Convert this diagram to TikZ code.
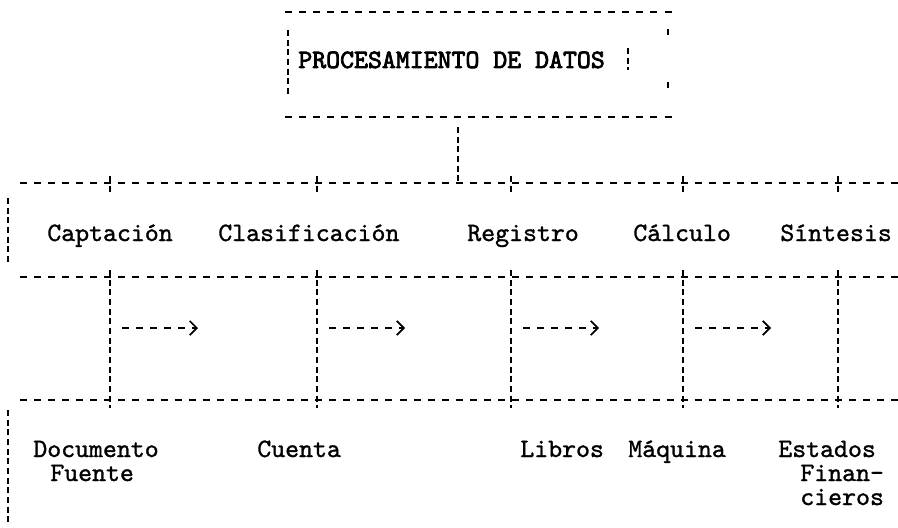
\documentclass[tikz,border=0pt]{standalone}
\usepackage{fontspec}
\usetikzlibrary{arrows.meta}
\newfontfamily\twfont{lmmono10-regular.otf}[FakeBold=1.2]
\newfontfamily\twbold{lmmono10-regular.otf}[FakeBold=2.8]
\tikzset{
  hline/.style={line width=1.1pt, dash pattern=on 4pt off 4pt},
  vline/.style={line width=1.0pt, dash pattern=on 3.5pt off 2pt},
  lbl/.style={anchor=base west, inner sep=0pt, font=\twfont\fontsize{15.1}{18}\selectfont},
  ttl/.style={lbl, font=\twbold\fontsize{15.1}{18}\selectfont},
  arr/.style={hline, -{Straight Barb[length=4pt,width=8pt,line width=1pt]}},
}
\begin{document}
\begin{tikzpicture}[x=0.02cm,y=-0.02cm]
\useasboundingbox (0,0) rectangle (898,527);
% top box
\node[ttl] (title) at (298,68) {PROCESAMIENTO DE DATOS};
\draw[hline] (285,12) -- (672,12);
\draw[hline] (285,117) -- (672,117);
\draw[vline] (288,30) -- (288,95);
\draw[vline] (628,48) -- (628,70);
\draw[vline] (668,29) -- (668,36);
\draw[vline] (668,82) -- (668,89);
% connector
\coordinate (c1) at (458,127);
\coordinate (c2) at (458,183);
\draw[vline] (c1) -- (c2);
% row lines
\foreach \y in {183,277,400} \draw[hline] (20,\y) -- (898,\y);
% column ticks and verticals
\foreach \x in {110,317,511,683,838} {
  \draw[vline] (\x,176) -- (\x,192);
  \draw[vline] (\x,270) -- (\x,408);
}
% left bars
\draw[vline] (8,198) -- (8,262);
\draw[vline] (8,410) -- (8,522);
% arrows
\foreach \x [count=\i] in {110,317,511,683} {
  \coordinate (a\i) at (\x+12,328);
  \coordinate (b\i) at (\x+88,328);
  \draw[arr] (a\i) -- (b\i);
}
% row titles
\node[lbl] (capt) at (47,241) {Captación};
\node[lbl] (clas) at (218,241) {Clasificación};
\node[lbl] (regi) at (467,241) {Registro};
\node[lbl] (calc) at (633,241) {Cálculo};
\node[lbl] (sint) at (780,241) {Síntesis};
% bottom labels
\node[lbl] (doc) at (33,457) {Documento};
\node[lbl] (fue) at (50,481) {Fuente};
\node[lbl] (cue) at (257,457) {Cuenta};
\node[lbl] (lib) at (520,457) {Libros};
\node[lbl] (maq) at (628,457) {Máquina};
\node[lbl] (est) at (778,457) {Estados};
\node[lbl] (fin) at (800,481) {Finan-};
\node[lbl] (cie) at (800,505) {cieros};
\end{tikzpicture}
\end{document}
